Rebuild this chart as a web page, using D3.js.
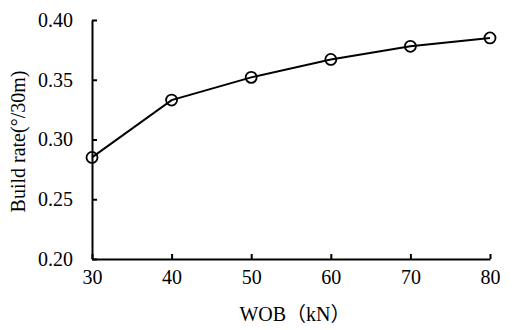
<!DOCTYPE html>
<html>
<head>
<meta charset="utf-8">
<script src="https://cdn.jsdelivr.net/npm/d3@7"></script>
<style>
  body { margin: 0; background: #fff; }
</style>
</head>
<body>
<div id="chart"></div>
<script>
// data
var wob = [30, 40, 50, 60, 70, 80];
var buildRate = [0.285, 0.333, 0.352, 0.367, 0.378, 0.385];
var xTicks = [30, 40, 50, 60, 70, 80];
var yTicks = [0.20, 0.25, 0.30, 0.35, 0.40];

var serif = "'Liberation Serif', 'Times New Roman', 'Noto Sans CJK SC', serif";

var margin = {top: 20, right: 22, bottom: 71, left: 92},
    width = 512 - margin.left - margin.right,
    height = 330 - margin.top - margin.bottom;

var svg = d3.select("#chart")
    .append("svg")
    .attr("width", 512)
    .attr("height", 330)
    .append("g")
    .attr("transform", "translate(" + margin.left + "," + margin.top + ")");

var x = d3.scaleLinear().domain([30, 80]).range([0, width]);
var y = d3.scaleLinear().domain([0.20, 0.40]).range([height, 0]);

// axes, ticks pointing inward
var xAxis = svg.append("g")
    .attr("transform", "translate(0," + height + ")")
    .call(d3.axisBottom(x).tickValues(xTicks).tickSizeInner(-5).tickSizeOuter(0).tickPadding(11));

var yAxis = svg.append("g")
    .call(d3.axisLeft(y).tickValues(yTicks).tickSizeInner(-5).tickSizeOuter(0).tickPadding(19)
        .tickFormat(d3.format(".2f")));

svg.selectAll(".domain").attr("stroke", "#000").attr("stroke-width", 2);
svg.selectAll(".tick line").attr("stroke", "#000").attr("stroke-width", 2);
svg.selectAll(".tick text")
    .style("font-size", "20px")
    .style("font-family", serif)
    .attr("fill", "#000");
xAxis.selectAll(".tick text").attr("dy", "0.71em");

// line
var line = d3.line()
    .x(function (d, i) { return x(wob[i]); })
    .y(function (d) { return y(d); });

svg.append("path")
    .datum(buildRate)
    .attr("fill", "none")
    .attr("stroke", "#000")
    .attr("stroke-width", 2)
    .attr("d", line);

// markers
svg.append("g")
    .selectAll("circle")
    .data(buildRate)
    .enter()
    .append("circle")
    .attr("cx", function (d, i) { return x(wob[i]); })
    .attr("cy", function (d) { return y(d); })
    .attr("r", 5.5)
    .attr("fill", "none")
    .attr("stroke", "#000")
    .attr("stroke-width", 1.8);

// axis titles
svg.append("text")
    .attr("x", width / 2 + 4)
    .attr("y", height + 62)
    .attr("text-anchor", "middle")
    .style("font-size", "20px")
    .style("font-family", serif)
    .text("WOB（kN）");

svg.append("text")
    .attr("transform", "translate(" + (-67) + "," + (height / 2 + 2) + ") rotate(-90)")
    .attr("text-anchor", "middle")
    .style("font-size", "20px")
    .style("font-family", serif)
    .text("Build rate(°/30m)");
</script>
</body>
</html>
